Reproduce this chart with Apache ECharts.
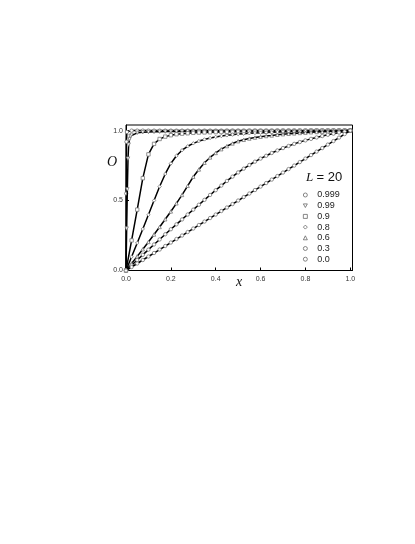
<!DOCTYPE html>
<html>
<head>
<meta charset="utf-8">
<script src="https://cdn.jsdelivr.net/npm/echarts@6/dist/echarts.min.js"></script>
<style>
  html, body { margin: 0; padding: 0; background: #fff; }
  #main { width: 415px; height: 544px; }
</style>
</head>
<body>
<div id="main"></div>
<script>
// x positions of the data points
var xs = [0, 0.025, 0.05, 0.075, 0.1, 0.125, 0.15, 0.175, 0.2, 0.225, 0.25, 0.275, 0.3, 0.325, 0.35, 0.375,
    0.4, 0.425, 0.45, 0.475, 0.5, 0.525, 0.55, 0.575, 0.6, 0.625, 0.65, 0.675, 0.7, 0.725, 0.75, 0.775,
    0.8, 0.825, 0.85, 0.875, 0.9, 0.925, 0.95, 0.975, 1.0];
// the two steep curves have a few extra points near x = 0
var xs099 = [0, 0.003, 0.006, 0.009, 0.012, 0.016, 0.02].concat(xs.slice(1));
var xs0999 = [0, 0.001, 0.002, 0.004].concat(xs.slice(1));

var o00 = [0, 0.025, 0.05, 0.075, 0.1, 0.125, 0.15, 0.175, 0.2, 0.225, 0.25, 0.275, 0.3, 0.325, 0.35, 0.375,
    0.4, 0.425, 0.45, 0.475, 0.5, 0.525, 0.55, 0.575, 0.6, 0.625, 0.65, 0.675, 0.7, 0.725, 0.75, 0.775,
    0.8, 0.825, 0.85, 0.875, 0.9, 0.925, 0.95, 0.975, 1.0];
var o03 = [0, 0.037, 0.075, 0.112, 0.149, 0.186, 0.222, 0.259, 0.295, 0.330, 0.365, 0.400, 0.435, 0.470, 0.505, 0.540,
    0.574, 0.607, 0.640, 0.671, 0.701, 0.728, 0.754, 0.778, 0.800, 0.820, 0.840, 0.858, 0.875, 0.890, 0.905, 0.918,
    0.930, 0.941, 0.951, 0.961, 0.970, 0.978, 0.986, 0.993, 1.0];
var o06 = [0, 0.050, 0.101, 0.152, 0.204, 0.257, 0.311, 0.366, 0.422, 0.480, 0.540, 0.605, 0.670, 0.722, 0.770, 0.808,
    0.840, 0.867, 0.889, 0.908, 0.924, 0.934, 0.943, 0.950, 0.956, 0.961, 0.965, 0.970, 0.974, 0.977, 0.980, 0.983,
    0.985, 0.988, 0.990, 0.992, 0.994, 0.996, 0.997, 0.999, 1.0];
var o08 = [0, 0.098, 0.197, 0.297, 0.398, 0.500, 0.600, 0.690, 0.765, 0.820, 0.860, 0.888, 0.909, 0.925, 0.937, 0.947,
    0.955, 0.961, 0.966, 0.971, 0.975, 0.978, 0.981, 0.983, 0.985, 0.987, 0.988, 0.990, 0.991, 0.992, 0.993, 0.994,
    0.995, 0.996, 0.997, 0.997, 0.998, 0.998, 0.999, 0.999, 1.0];
var o09 = [0, 0.215, 0.435, 0.660, 0.830, 0.905, 0.940, 0.957, 0.967, 0.974, 0.978, 0.981, 0.984, 0.986, 0.987, 0.988,
    0.989, 0.990, 0.991, 0.991, 0.992, 0.992, 0.993, 0.993, 0.994, 0.994, 0.995, 0.995, 0.996, 0.996, 0.996, 0.997,
    0.997, 0.997, 0.998, 0.998, 0.998, 0.999, 0.999, 0.999, 1.0];
var o099 = [0, 0.30, 0.58, 0.80, 0.90, 0.94, 0.96,
    0.970, 0.984, 0.988, 0.990, 0.991, 0.992, 0.993, 0.993, 0.994, 0.994, 0.995, 0.995, 0.995, 0.996, 0.996,
    0.996, 0.996, 0.997, 0.997, 0.997, 0.997, 0.998, 0.998, 0.998, 0.998, 0.998, 0.999, 0.999, 0.999, 0.999,
    0.999, 0.999, 1.0, 1.0, 1.0, 1.0, 1.0, 1.0, 1.0, 1.0];
var o0999 = [0, 0.55, 0.92, 0.99,
    1.0, 1.0, 1.0, 1.0, 1.0, 1.0, 1.0, 1.0, 1.0, 1.0, 1.0, 1.0, 1.0, 1.0, 1.0, 1.0, 1.0, 1.0, 1.0, 1.0,
    1.0, 1.0, 1.0, 1.0, 1.0, 1.0, 1.0, 1.0, 1.0, 1.0, 1.0, 1.0, 1.0, 1.0, 1.0, 1.0, 1.0, 1.0, 1.0, 1.0];

var names = ['0.999', '0.99', '0.9', '0.8', '0.6', '0.3', '0.0'];
var downTriangle = 'path://M0,0L10,0L5,9Z';
var symbols = ['circle', downTriangle, 'rect', 'diamond', 'triangle', 'circle', 'circle'];
var xTicks = [0, 0.2, 0.4, 0.6, 0.8, 1.0];
var yTicks = [0, 0.5, 1.0];

function pairs(x, y) {
    var out = [];
    for (var i = 0; i < y.length; i++) out.push([x[i], y[i]]);
    return out;
}

var seriesData = [
    pairs(xs0999, o0999),
    pairs(xs099, o099),
    pairs(xs, o09),
    pairs(xs, o08),
    pairs(xs, o06),
    pairs(xs, o03),
    pairs(xs, o00)
];

var series = [];
for (var k = 0; k < names.length; k++) {
    series.push({
        name: names[k],
        type: 'line',
        data: seriesData[k],
        symbol: symbols[k],
        symbolSize: 3.4,
        showAllSymbol: true,
        animation: false,
        lineStyle: { color: '#000', width: 1.5 },
        itemStyle: { color: '#fff', borderColor: '#777', borderWidth: 0.8 },
        z: 2 + k
    });
}

var legendData = [];
for (var j = 0; j < names.length; j++) {
    legendData.push({ name: names[j], icon: symbols[j], itemStyle: { color: '#fff', borderColor: '#555', borderWidth: 0.7 } });
}

var chart = echarts.init(document.getElementById('main'));
chart.setOption({
    backgroundColor: '#fff',
    animation: false,
    grid: {
        left: 126, top: 125, width: 226.5, height: 145.5,
        show: true, borderColor: '#000', borderWidth: 1, backgroundColor: 'transparent'
    },
    xAxis: {
        type: 'value', min: 0, max: 1.01,
        axisLine: { lineStyle: { color: '#000', width: 1 } },
        axisTick: { inside: true, length: 3, customValues: xTicks, lineStyle: { color: '#000' } },
        axisLabel: {
            customValues: xTicks, margin: 5, color: '#333', fontSize: 7,
            fontFamily: 'Liberation Sans, Arial, sans-serif',
            formatter: function (v) { return v.toFixed(1); }
        },
        splitLine: { show: false }
    },
    yAxis: {
        type: 'value', min: 0, max: 1.04,
        axisLine: { lineStyle: { color: '#000', width: 1 } },
        axisTick: { inside: true, length: 3, customValues: yTicks, lineStyle: { color: '#000' } },
        axisLabel: {
            customValues: yTicks, margin: 3, color: '#333', fontSize: 7,
            fontFamily: 'Liberation Sans, Arial, sans-serif',
            formatter: function (v) { return v.toFixed(1); }
        },
        splitLine: { show: false }
    },
    legend: {
        orient: 'vertical',
        left: 303, top: 190.5,
        padding: 0,
        itemWidth: 4, itemHeight: 4, itemGap: 1.7,
        selectedMode: false,
        data: legendData,
        textStyle: { color: '#222', fontSize: 9, fontFamily: 'Liberation Sans, Arial, sans-serif', padding: [0, 0, 0, 5] }
    },
    graphic: [
        {
            type: 'text', left: 107, top: 155,
            style: { text: 'O', font: 'italic 14px "Liberation Serif", "Times New Roman", serif', fill: '#111' }
        },
        {
            type: 'text', left: 236, top: 275,
            style: { text: 'x', font: 'italic 14px "Liberation Serif", "Times New Roman", serif', fill: '#111' }
        },
        {
            type: 'text', left: 306, top: 171,
            style: {
                text: '{l|L} {t|= 20}',
                rich: {
                    l: { font: 'italic 13px "Liberation Serif", "Times New Roman", serif', fill: '#111' },
                    t: { font: '13px "Liberation Sans", Arial, sans-serif', fill: '#111' }
                }
            }
        }
    ],
    series: series
});
</script>
</body>
</html>
